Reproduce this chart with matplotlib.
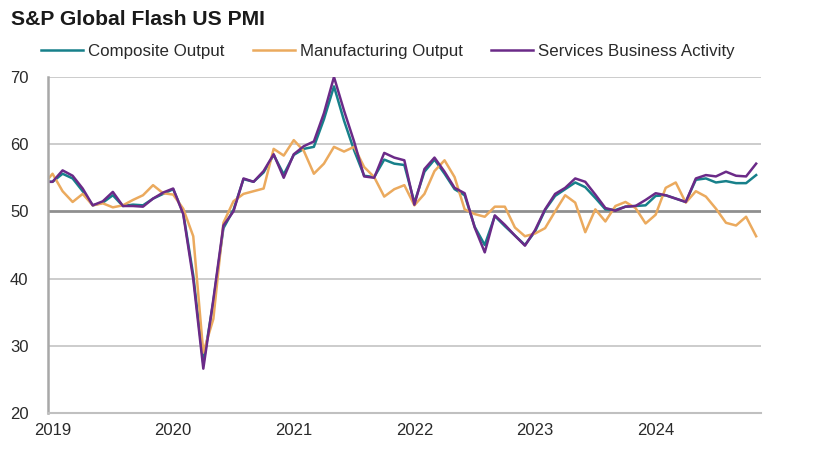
import matplotlib
matplotlib.use('Agg')
import matplotlib.pyplot as plt
import numpy as np

plt.rcParams['font.family'] = ['Liberation Sans', 'DejaVu Sans']

# monthly readings, Dec 2018 .. Nov 2024 (Dec 2018 is cut off by the axis)
composite = [54.4,
             54.4, 55.6, 54.9, 53.0, 50.9, 51.3, 52.4, 50.8, 51.0, 50.9, 51.9, 52.6,
             53.3, 49.8, 40.5, 27.4, 36.6, 47.5, 50.2, 54.8, 54.4, 55.8, 58.4, 55.5,
             58.4, 59.3, 59.6, 63.7, 68.6, 63.5, 59.1, 55.3, 55.1, 57.7, 57.1, 56.9,
             51.3, 55.9, 57.7, 55.6, 53.3, 52.4, 47.7, 45.0, 49.3, 47.8, 46.4, 45.0,
             47.0, 50.2, 52.3, 53.3, 54.3, 53.6, 52.0, 50.3, 50.2, 50.7, 50.8, 50.9,
             52.3, 52.4, 51.9, 51.4, 54.7, 54.9, 54.3, 54.5, 54.2, 54.2, 55.4]
manufacturing = [53.8,
                 55.6, 53.0, 51.4, 52.6, 50.9, 51.2, 50.6, 50.9, 51.7, 52.4, 53.9, 52.7,
                 52.5, 50.4, 46.3, 29.0, 34.0, 48.3, 51.5, 52.6, 53.0, 53.4, 59.3, 58.3,
                 60.6, 59.0, 55.6, 57.1, 59.6, 58.9, 59.6, 56.6, 55.1, 52.2, 53.3, 53.9,
                 50.9, 52.6, 56.0, 57.6, 55.1, 50.3, 49.6, 49.2, 50.7, 50.7, 47.6, 46.3,
                 46.7, 47.5, 50.0, 52.4, 51.3, 46.9, 50.3, 48.5, 50.8, 51.4, 50.5, 48.2,
                 49.5, 53.5, 54.3, 51.3, 53.0, 52.2, 50.4, 48.3, 47.9, 49.2, 46.3]
services = [54.4,
            54.4, 56.1, 55.3, 53.4, 50.9, 51.5, 52.9, 50.8, 50.8, 50.7, 51.9, 52.8,
            53.4, 49.6, 39.9, 26.6, 36.9, 47.9, 50.0, 54.9, 54.4, 56.0, 58.5, 55.0,
            58.5, 59.7, 60.4, 64.6, 70.0, 65.0, 60.4, 55.2, 55.0, 58.7, 58.0, 57.6,
            51.0, 56.3, 58.0, 55.9, 53.5, 52.7, 47.6, 43.9, 49.4, 48.0, 46.4, 44.9,
            47.2, 50.3, 52.6, 53.5, 54.9, 54.4, 52.5, 50.5, 50.1, 50.7, 50.8, 51.7,
            52.7, 52.4, 51.9, 51.4, 54.9, 55.4, 55.2, 55.9, 55.3, 55.2, 57.1]
years = ['2019', '2020', '2021', '2022', '2023', '2024']

months = np.arange(-1, len(services) - 1)

fig = plt.figure(figsize=(8.22, 4.5), dpi=100)
ax = fig.add_axes([0.0584, 0.0822, 0.8676, 0.7468])

ax.plot(months, composite, color='#17808a', lw=1.8, label='Composite Output')
ax.plot(months, manufacturing, color='#ebaa5e', lw=1.8, label='Manufacturing Output')
ax.plot(months, services, color='#6b2a88', lw=1.8, label='Services Business Activity')

ax.set_xlim(-0.45, 70.5)
ax.set_ylim(20, 70)
ax.set_yticks([20, 30, 40, 50, 60, 70])
ax.set_xticks(np.arange(len(years)) * 12)
ax.set_xticklabels(years)

for v in [30, 40, 60, 70]:
    ax.axhline(v, color='#c8c8c8', lw=1.3, zorder=0)
ax.axhline(50, color='#8f8f8f', lw=2.0, zorder=0)

for s in ['top', 'right']:
    ax.spines[s].set_visible(False)
ax.spines['left'].set_color('#a8a8a8')
ax.spines['left'].set_linewidth(1.8)
ax.spines['bottom'].set_color('#c0c0c0')
ax.spines['bottom'].set_linewidth(1.5)
ax.tick_params(length=0, labelsize=12, colors='#2a2a2a')
ax.tick_params(axis='y', pad=14)
ax.tick_params(axis='x', pad=7)

fig.text(0.013, 0.956, 'S&P Global Flash US PMI', fontsize=15.2, fontweight='bold',
         color='#1a1a1a', va='center', ha='left')
fig.legend(loc='center left', bbox_to_anchor=(0.040, 0.886), ncol=3, frameon=False,
           fontsize=12.2, handlelength=2.45, handletextpad=0.3, columnspacing=1.7,
           borderpad=0, labelcolor='#2a2a2a')

fig.savefig('out.png', dpi=100, facecolor='white')
